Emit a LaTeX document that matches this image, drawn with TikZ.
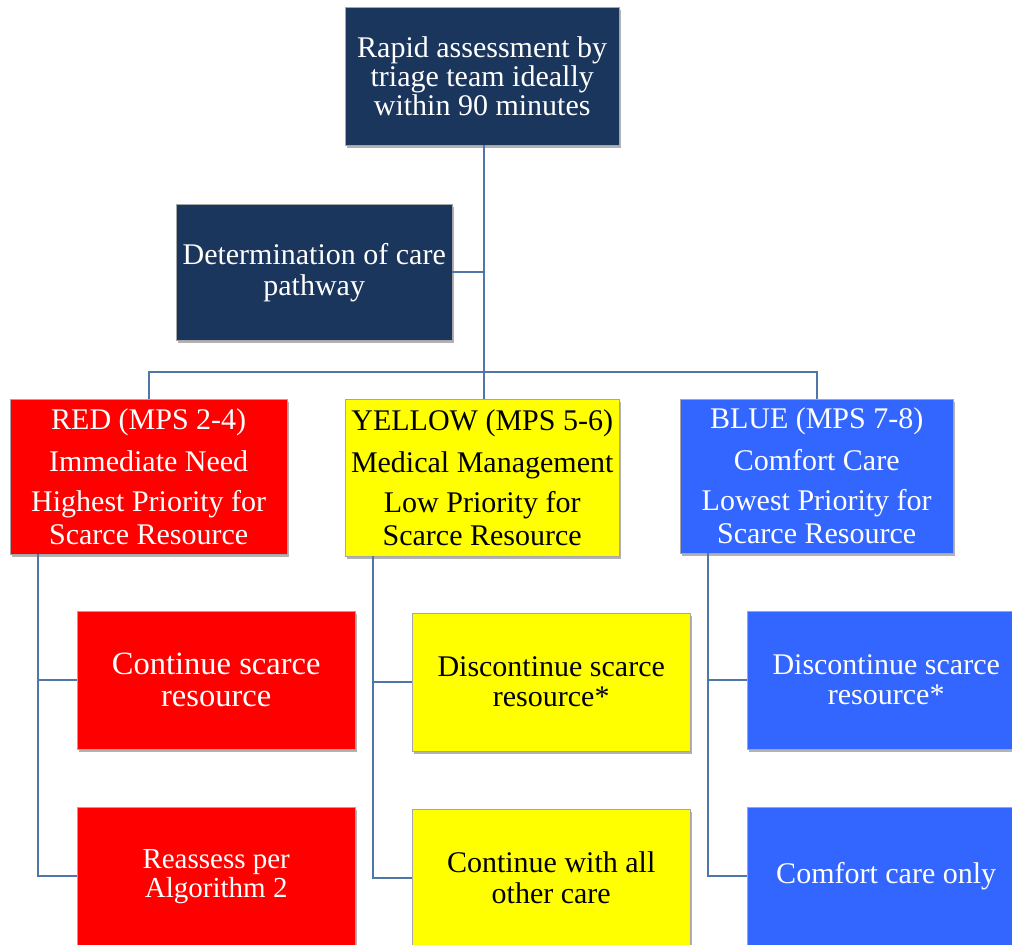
\documentclass[tikz,border=0pt]{standalone}
\usepackage{fontspec}
\setmainfont{Liberation Serif}
\usetikzlibrary{shadows}
\definecolor{navy}{RGB}{27,54,93}
\definecolor{bred}{RGB}{255,0,0}
\definecolor{byel}{RGB}{255,255,0}
\definecolor{bblue}{RGB}{51,102,255}
\definecolor{conncol}{RGB}{78,118,166}
\tikzset{
  box/.style={anchor=north west, inner sep=0pt, align=center,
    drop shadow={shadow xshift=1.5pt, shadow yshift=-2.5pt, opacity=0.3, fill=black},
    draw=black!35, line width=0.4pt},
  bigtxt/.style={font=\fontsize{30}{29}\selectfont},
  navybox/.style={box, bigtxt, fill=navy, text=white},
  redbox/.style={box, fill=bred, text=white},
  yelbox/.style={box, fill=byel, text=black},
  bluebox/.style={box, fill=bblue, text=white},
  cat/.style={minimum width=277pt, minimum height=155pt, font=\fontsize{30}{33}\selectfont},
  child/.style={minimum width=278pt, minimum height=138pt, font=\fontsize{30}{30}\selectfont},
  conn/.style={draw=conncol, line width=2.4pt}
}
\begin{document}
\begin{tikzpicture}[x=1pt, y=-1pt]
\useasboundingbox (0,0) rectangle (1012,945);
\clip (0,0) rectangle (1012,945);
\fill[white] (0,0) rectangle (1012,945);

% top nodes
\node[navybox, minimum width=274pt, minimum height=138pt] (top) at (345,7)
  {Rapid assessment by\\triage team ideally\\within 90 minutes};
\node[navybox, minimum width=276pt, minimum height=136pt, font=\fontsize{30}{31}\selectfont] (det) at (176,204)
  {Determination of care\\pathway};

% categories
\node[redbox, cat] (red) at (10,399)
  {RED (MPS 2-4)\\[9pt]Immediate Need\\[7pt]Highest Priority for\\Scarce Resource};
\node[yelbox, cat, minimum width=274pt, minimum height=157pt] (yel) at (345,399)
  {YELLOW (MPS 5-6)\\[9pt]Medical Management\\[7pt]Low Priority for\\Scarce Resource};
\node[bluebox, cat, minimum width=273pt, minimum height=154pt] (blu) at (680,399)
  {BLUE (MPS 7-8)\\[9pt]Comfort Care\\[7pt]Lowest Priority for\\Scarce Resource};

% children
\node[redbox, child, font=\fontsize{32.5}{32}\selectfont] (r1) at (77,611) {Continue scarce\\resource};
\node[redbox, child, font=\fontsize{29}{29}\selectfont] (r2) at (77,807) {Reassess per\\Algorithm 2};
\node[yelbox, child] (y1) at (412,613) {Discontinue scarce\\resource*};
\node[yelbox, child, font=\fontsize{30}{31}\selectfont] (y2) at (412,809) {Continue with all\\other care};
\node[bluebox, child] (b1) at (747,611) {Discontinue scarce\\resource*};
\node[bluebox, child] (b2) at (747,807) {Comfort care only};

% connectors
\coordinate (bus) at (484,372);
\coordinate (trunk) at (484,145);
\draw[conn] (top.south -| trunk) -- (bus);
\draw[conn] (det.east) -- (det.east -| trunk);
\draw[conn] (red.north) -- (red.north |- bus) -- (blu.north |- bus) -- (blu.north);
\draw[conn] (bus) -- (bus |- yel.north);

\coordinate (sR) at ([xshift=28pt]red.south west);
\coordinate (sY) at ([xshift=28pt]yel.south west);
\coordinate (sB) at ([xshift=28pt]blu.south west);
\draw[conn] (sR) |- (r2.west);
\draw[conn] (sR |- r1.west) -- (r1.west);
\draw[conn] (sY) |- (y2.west);
\draw[conn] (sY |- y1.west) -- (y1.west);
\draw[conn] (sB) |- (b2.west);
\draw[conn] (sB |- b1.west) -- (b1.west);
\end{tikzpicture}
\end{document}
